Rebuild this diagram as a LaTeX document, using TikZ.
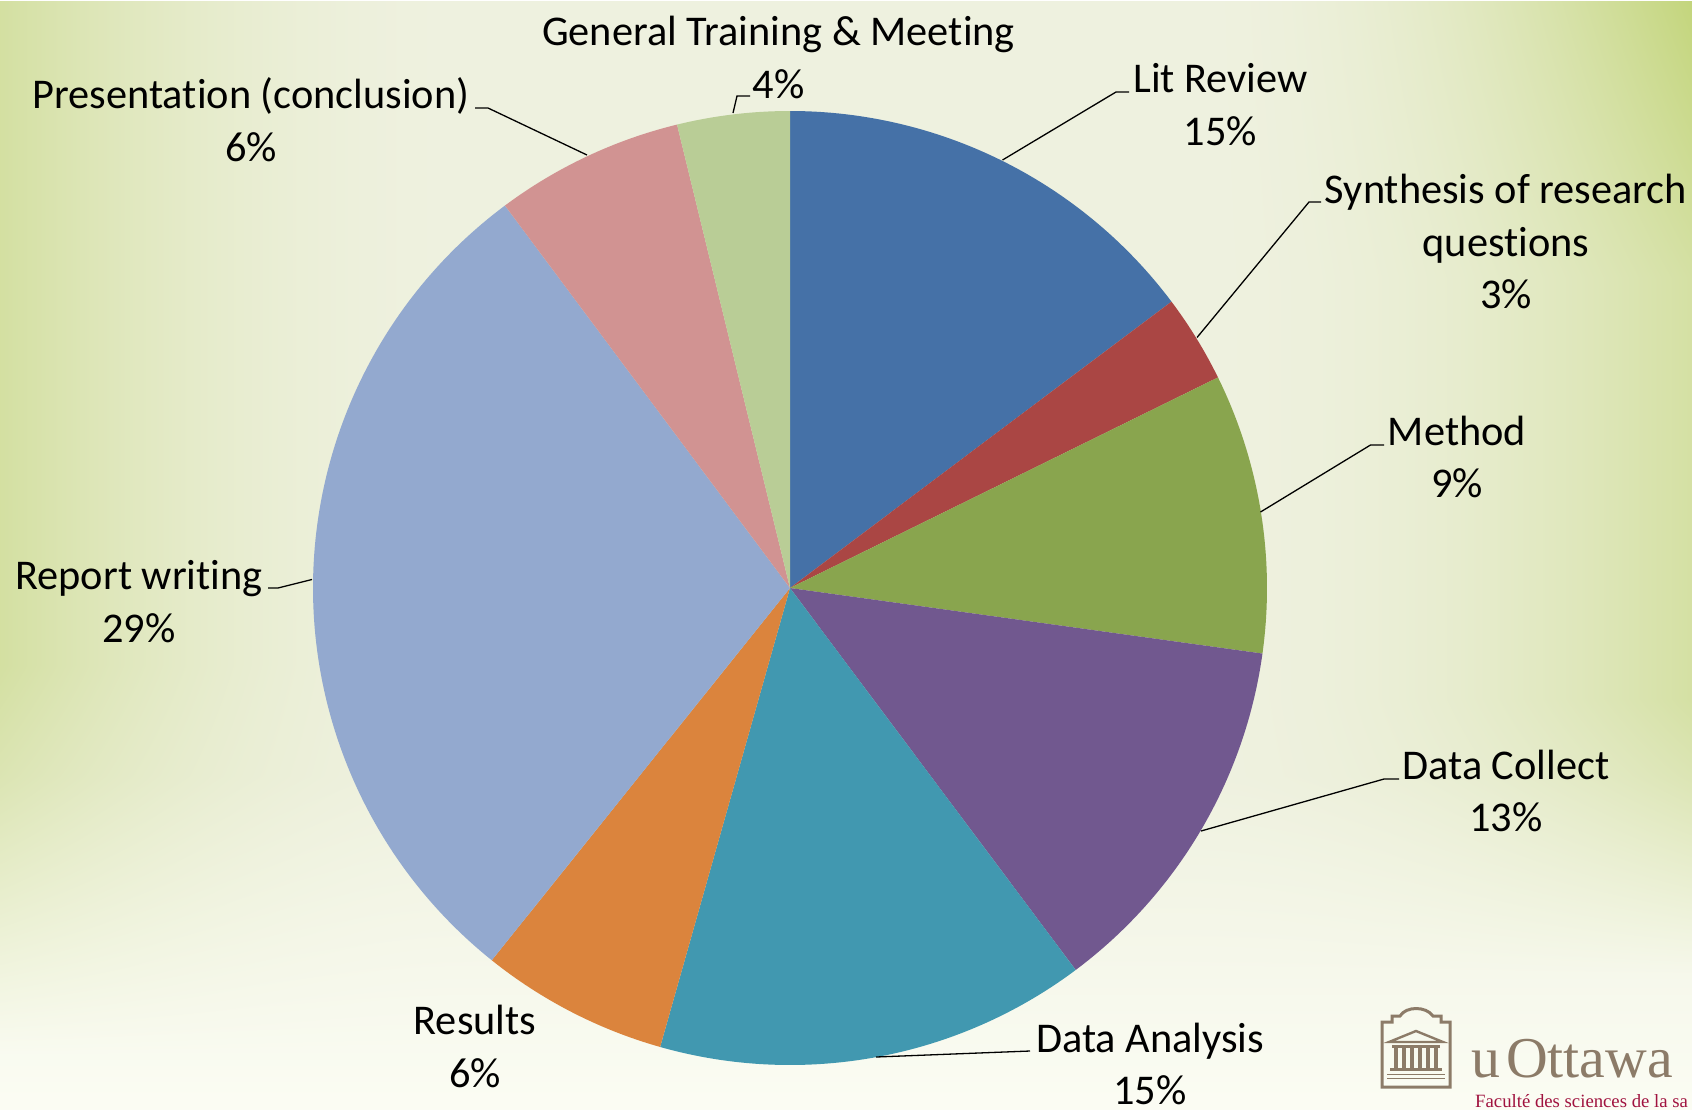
\documentclass[tikz,border=0pt]{standalone}
\usepackage{fontspec}
\setmainfont[Ligatures=NoCommon]{Carlito}
\newfontfamily\serifft{Liberation Serif}
\usetikzlibrary{calc}
\definecolor{cA}{HTML}{4571A7}
\definecolor{cB}{HTML}{AA4644}
\definecolor{cC}{HTML}{89A54E}
\definecolor{cD}{HTML}{71588F}
\definecolor{cE}{HTML}{4198B0}
\definecolor{cF}{HTML}{DB843D}
\definecolor{cG}{HTML}{93A9CF}
\definecolor{cH}{HTML}{D19392}
\definecolor{cI}{HTML}{B9CD96}
\definecolor{logo}{HTML}{8C7B68}
\definecolor{facu}{HTML}{A0133F}
\pgfdeclarefunctionalshading{bgshade}{\pgfpointorigin}{\pgfpoint{1692bp}{1109bp}}{}{
 1109 exch sub 1109 div exch 1692 div exch
 dup 3 1 roll
 2 copy
 0.95 exch sub 0.35 div dup 1 gt {pop 1} if dup 0 lt {pop 0} if 0.62 mul
 exch 0.28 div 1 exch sub dup 0 lt {pop 0} if dup mul
 mul
 3 1 roll
 dup 0.88 exch sub 0.25 div dup 1 gt {pop 1} if dup 0 lt {pop 0} if 0.6 mul
 exch 0.25 div 1 exch sub dup 0 lt {pop 0} if 0.4 mul add
 exch 0.70 sub 0.30 div dup 0 lt {pop 0} if dup mul
 mul
 2 copy lt {exch} if pop
 exch 0.7 sub 0.3 div dup 0 lt {pop 0} if exch
 1 index 0.05 mul 0.935 add 1 index 0.17 mul sub
 3 1 roll
 1 index 0.045 mul 0.945 add 1 index 0.11 mul sub
 3 1 roll
 exch 0.08 mul 0.875 add exch 0.39 mul sub
}
\tikzset{
 lab/.style={font=\fontsize{42.5}{50}\selectfont,anchor=base,inner sep=0pt,text=black},
 leader/.style={draw=black,line width=1.3bp},
 logoline/.style={draw=logo,line width=3bp},
 logofill/.style={fill=logo,draw=none},
}
\begin{document}
\begin{tikzpicture}[x=1bp,y=-1bp]
\useasboundingbox (0,0) rectangle (1692,1109);
\pgftext[at=\pgfpoint{0bp}{-1109bp},left,bottom]{\pgfuseshading{bgshade}}
\coordinate (c) at (790,588);
\def\R{477}
\def\pieslice#1#2#3{\fill[#1] (c) -- ($(c)+(#2:\R)$) arc[start angle=#2,end angle=#3,radius=\R] -- cycle;}
\pieslice{cA}{-90}{-36.9}
\pieslice{cB}{-36.9}{-26.2}
\pieslice{cC}{-26.2}{7.9}
\pieslice{cD}{7.9}{53.2}
\pieslice{cE}{53.2}{105.8}
\pieslice{cF}{105.8}{128.7}
\pieslice{cG}{128.7}{233.3}
\pieslice{cH}{233.3}{256.3}
\pieslice{cI}{256.3}{270}
\node[lab] (gtm) at (778.5,45) {General Training \& Meeting};
\node[lab] (gtmp) at (778.5,98) {4\%};
\node[lab] (pres) at (251,108) {Presentation (conclusion)};
\node[lab] (presp) at (251,161) {6\%};
\node[lab] (lit) at (1220.5,92.5) {Lit Review};
\node[lab] (litp) at (1220.5,145) {15\%};
\node[lab] (syn) at (1506,203.5) {Synthesis of research};
\node[lab] (synb) at (1506,256) {questions};
\node[lab] (synp) at (1506,308) {3\%};
\node[lab] (met) at (1457,445.5) {Method};
\node[lab] (metp) at (1457,497) {9\%};
\node[lab] (dat) at (1506,779.5) {Data Collect};
\node[lab] (datp) at (1506,831) {13\%};
\node[lab] (ana) at (1150,1052.5) {Data Analysis};
\node[lab] (anap) at (1150,1104) {15\%};
\node[lab] (res) at (475,1034) {Results};
\node[lab] (resp) at (475,1087) {6\%};
\node[lab] (rep) at (139,589.5) {Report writing};
\node[lab] (repp) at (139,642) {29\%};
% leader anchors
\coordinate (pLit) at (1002.5,160);
\coordinate (kLit) at (1116,92);
\coordinate (eLit) at (1129,92);
\coordinate (pSyn) at (1197,337.5);
\coordinate (kSyn) at (1309,202);
\coordinate (eSyn) at (1321,202);
\coordinate (pMet) at (1260.5,512);
\coordinate (kMet) at (1370.5,445);
\coordinate (eMet) at (1384,445);
\coordinate (pDat) at (1201,831);
\coordinate (kDat) at (1384,779);
\coordinate (eDat) at (1399,779);
\coordinate (pAna) at (876,1057);
\coordinate (eAna) at (1030,1051);
\coordinate (pRep) at (312,579.5);
\coordinate (kRep) at (278,588);
\coordinate (eRep) at (268,588);
\coordinate (pPre) at (587,155);
\coordinate (kPre) at (488,108);
\coordinate (ePre) at (475,108);
\coordinate (pGtm) at (733,113);
\coordinate (kGtm) at (737,96);
\coordinate (eGtm) at (750,96);
\draw[leader] (pLit) -- (kLit) -- (eLit);
\draw[leader] (pSyn) -- (kSyn) -- (eSyn);
\draw[leader] (pMet) -- (kMet) -- (eMet);
\draw[leader] (pDat) -- (kDat) -- (eDat);
\draw[leader] (pAna) -- (eAna);
\draw[leader] (pRep) -- (kRep) -- (eRep);
\draw[leader] (pPre) -- (kPre) -- (ePre);
\draw[leader] (pGtm) -- (kGtm) -- (eGtm);
% logo
\draw[logoline] (1382,1087) -- (1382,1022) -- (1392,1022) -- (1392,1016) -- (1400,1016)
  .. controls (1406,1006) and (1426,1006) .. (1433,1016) -- (1441,1016) -- (1441,1022) -- (1450,1022) -- (1450,1087) -- cycle;
\draw[logoline,line width=2.4bp] (1389,1042) -- (1416,1031) -- (1443,1042) -- cycle;
\fill[logofill] (1392,1045) rectangle (1440,1048);
\foreach \xx in {1396,1404,1412,1420,1428,1436}{\fill[logofill] (\xx-2,1048) rectangle (\xx+2,1068);}
\fill[logofill] (1390,1068) rectangle (1442,1071);
\fill[logofill] (1387,1073.5) rectangle (1445,1075);
\fill[logofill] (1387,1077.5) rectangle (1445,1079);
\node[anchor=base west,inner sep=0pt,text=logo,font={\serifft\fontsize{58}{60}\selectfont}] (uo) at (1471,1077) {u\kern6pt Ottawa};
\node[anchor=base west,inner sep=0pt,text=facu,font={\serifft\fontsize{18.8}{20}\selectfont}] (fac) at (1475,1107) {Faculté des sciences de la sa};
\end{tikzpicture}
\end{document}
